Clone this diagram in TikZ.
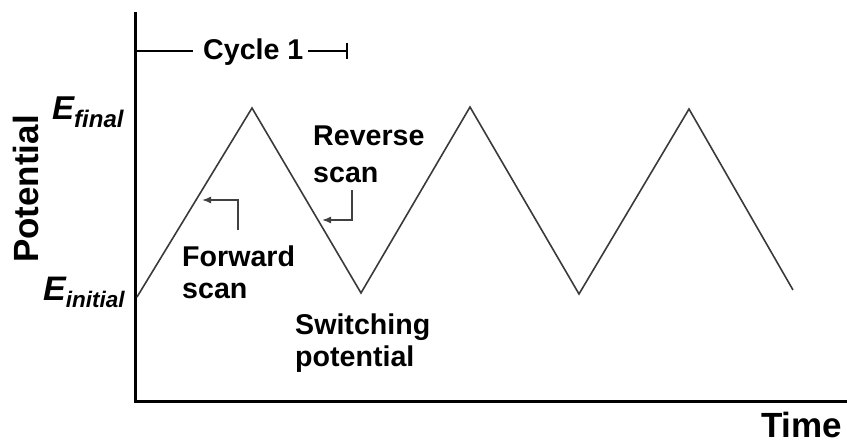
\documentclass[tikz,border=0pt]{standalone}
\usepackage{fontspec}
\setmainfont{Liberation Sans}
\usetikzlibrary{arrows.meta}
\definecolor{wavegray}{HTML}{3A3A3A}
\definecolor{arrgray}{HTML}{404040}
\tikzset{
  axis/.style={line width=3pt, black},
  wave/.style={line width=1.6pt, wavegray, line join=miter},
  pointer/.style={line width=1.6pt, arrgray, -{Latex[length=9pt,width=7pt]}},
  bracket/.style={line width=2pt, black},
  lab/.style={font=\fontsize{28.6}{32}\selectfont\bfseries, anchor=base west, inner sep=0pt},
  biglab/.style={font=\fontsize{35}{40}\selectfont\bfseries, inner sep=0pt},
}
\begin{document}
\begin{tikzpicture}[x=1pt,y=-1pt]
\useasboundingbox (0,0) rectangle (847,444);
% axes
\coordinate (ytop) at (135,12);
\coordinate (orig) at (135,401);
\coordinate (xend) at (847,401);
\draw[axis] (ytop) -- (orig) -- (xend);
% wave
\coordinate (w0) at (137,297);
\coordinate (w1) at (252,108);
\coordinate (w2) at (361,293);
\coordinate (w3) at (470,107);
\coordinate (w4) at (579,294);
\coordinate (w5) at (689,109);
\coordinate (w6) at (793,290);
\draw[wave] (w0) -- (w1) -- (w2) -- (w3) -- (w4) -- (w5) -- (w6);
% cycle bracket
\node[lab] (cyc) at (203,60) {Cycle 1};
\coordinate (cl) at (135,51);
\coordinate (cr) at (347,51);
\coordinate (crt) at (347,43);
\coordinate (crb) at (347,59);
\draw[bracket] (cl) -- (193,51);
\draw[bracket] (308,51) -- (cr);
\draw[bracket] (crt) -- (crb);
% E labels
\node[inner sep=0pt, anchor=base west, font=\bfseries\itshape] (efin) at (52,120)
  {\fontsize{33}{36}\selectfont E\raisebox{-8pt}{\fontsize{24}{26}\selectfont final}};
\node[inner sep=0pt, anchor=base west, font=\bfseries\itshape] (eini) at (43,300)
  {\fontsize{34}{36}\selectfont E\raisebox{-7pt}{\fontsize{22.5}{26}\selectfont initial}};
% axis titles
\node[biglab, rotate=90, anchor=base] (pot) at (38,189) {Potential};
\node[biglab, anchor=base west] (time) at (761,437) {Time};
% text labels
\node[lab] (fwd1) at (182,266) {Forward};
\node[lab] (fwd2) at (182,298) {scan};
\node[lab] (rev1) at (313,146) {Reverse};
\node[lab] (rev2) at (313,182) {scan};
\node[lab] (sw1) at (295,334) {Switching};
\node[lab] (sw2) at (295,366) {potential};
% pointers
\coordinate (fa) at (238,230);
\coordinate (fb) at (238,200);
\coordinate (fc) at (202,200);
\draw[pointer] (fa) -- (fb) -- (fc);
\coordinate (ra) at (352,190);
\coordinate (rb) at (352,220);
\coordinate (rc) at (322,220);
\draw[pointer] (ra) -- (rb) -- (rc);
\end{tikzpicture}
\end{document}
